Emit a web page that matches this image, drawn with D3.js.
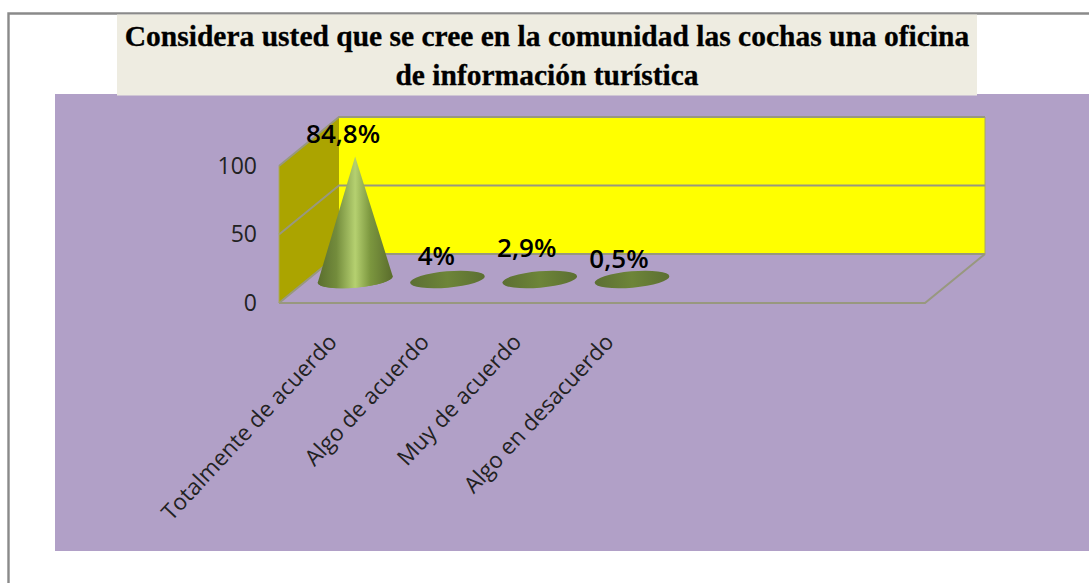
<!DOCTYPE html>
<html><head><meta charset="utf-8">
<script src="https://cdn.jsdelivr.net/npm/d3@7"></script>
<style>html,body{margin:0;padding:0;background:#fff}svg{display:block}</style>
</head><body><div id="c"></div>
<script>
const titleLines = ["Considera usted que se cree en la comunidad las cochas una oficina","de información turística"];
const categories = ["Totalmente de acuerdo","Algo de acuerdo","Muy de acuerdo","Algo en desacuerdo"];
const values = [84.8,4,2.9,0.5];
const valueLabels = ["84,8%","4%","2,9%","0,5%"];
const yTicks = [0,50,100];

const W=1089,H=583;
const svg=d3.select("#c").append("svg").attr("width",W).attr("height",H);
const defs=svg.append("defs");
const g=defs.append("linearGradient").attr("id","cone");
[[0,"#5a6e2e"],[.25,"#738c3c"],[.5,"#b5d070"],[.7,"#7c973f"],[1,"#5a6c2c"]].forEach(s=>g.append("stop").attr("offset",s[0]).attr("stop-color",s[1]));
const g2=defs.append("linearGradient").attr("id","disc");
[[0,"#5c6f33"],[.5,"#6d8538"],[1,"#5c6f33"]].forEach(s=>g2.append("stop").attr("offset",s[0]).attr("stop-color",s[1]));

// frame and panels
svg.append("path").attr("d",`M8.5 ${H}V13.5H${W}`).attr("fill","none").attr("stroke","#8a8a8a").attr("stroke-width",2.4);
svg.append("rect").attr("x",55).attr("y",94).attr("width",W-55).attr("height",457).attr("fill","#b1a0c7");
svg.append("rect").attr("x",117).attr("y",14.5).attr("width",860).attr("height",81).attr("fill","#eeece1");
svg.append("g").selectAll("text").data(titleLines).join("text")
  .attr("x",547).attr("y",(d,i)=>46+i*39).attr("text-anchor","middle")
  .attr("font-family","Liberation Serif").attr("font-weight","bold").attr("font-size",29.5)
  .attr("stroke","#000").attr("stroke-width",.3).attr("fill","#000").text(d=>d);

// 3D box
const dx=60,dy=-49;
const y=d3.scaleLinear().domain([0,100]).range([303,166]);
const x0=279,x1=925;
svg.append("polygon").attr("points",[[x0+dx,y(100)+dy],[x1+dx,y(100)+dy],[x1+dx,y(0)+dy],[x0+dx,y(0)+dy]].join(" ")).attr("fill","#ffff00");
svg.append("polygon").attr("points",[[x0,y(0)],[x0+dx,y(0)+dy],[x0+dx,y(100)+dy],[x0,y(100)]].join(" ")).attr("fill","#aba400");
const grid=svg.append("g").attr("fill","none").attr("stroke","#98987f").attr("stroke-width",2);
yTicks.forEach(t=>grid.append("path").attr("d",`M${x0} ${y(t)}L${x0+dx} ${y(t)+dy}H${x1+dx}`));
grid.append("path").attr("d",`M${x0} ${y(0)}H${x1}L${x1+dx} ${y(0)+dy}`);
grid.append("path").attr("stroke-width",1).attr("stroke","#a8a860").attr("d",`M${x0} ${y(0)}V${y(100)}M${x1+dx} ${y(0)+dy}V${y(100)+dy}`);

// value axis
const axis=svg.append("g").attr("transform",`translate(${x0},0)`).call(d3.axisLeft(y).tickValues(yTicks).tickSize(0).tickPadding(22));
axis.select(".domain").remove();
axis.selectAll("text").attr("font-family","Open Sans").attr("font-size",23).attr("fill","#222");

// cones
const slots=d3.scaleLinear().domain([0,7]).range([309,955]);
const h=d3.scaleLinear().domain([0,100]).range([0,145]);
const cx=i=>slots(i+.5), by=279.5, rx=37.5, ry=8.2, tilt=-5, lift=3.6;
const marks=svg.append("g");
categories.forEach((c,i)=>{
  const m=cx(i);
  marks.append("ellipse").attr("cx",m).attr("cy",by).attr("rx",rx).attr("ry",ry)
    .attr("transform",`rotate(${tilt} ${m} ${by})`).attr("fill",values[i]>10?"url(#cone)":"url(#disc)");
  if(values[i]>10){
    marks.append("path").attr("fill","url(#cone)")
      .attr("d",`M${m-rx} ${by+lift}A${rx} ${ry} ${tilt} 0 0 ${m+rx} ${by-lift}L${m} ${by-h(values[i])}Z`);
  }
});

// value labels
const labelDx=[-12,-11,-13,-13], labelDy=[136.5,14.5,22.5,11.5];
svg.append("g").selectAll("text").data(valueLabels).join("text")
  .attr("x",(d,i)=>cx(i)+labelDx[i]).attr("y",(d,i)=>by-labelDy[i])
  .attr("text-anchor","middle").attr("font-family","Open Sans").attr("font-weight",600).attr("font-size",26).attr("fill","#000").text(d=>d);

// category labels
svg.append("g").selectAll("text").data(categories).join("text")
  .attr("transform",(d,i)=>`translate(${cx(i)-17},343) rotate(-47)`)
  .attr("text-anchor","end").attr("font-family","Open Sans").attr("font-size",22.5).attr("fill","#222").text(d=>d);
</script></body></html>
